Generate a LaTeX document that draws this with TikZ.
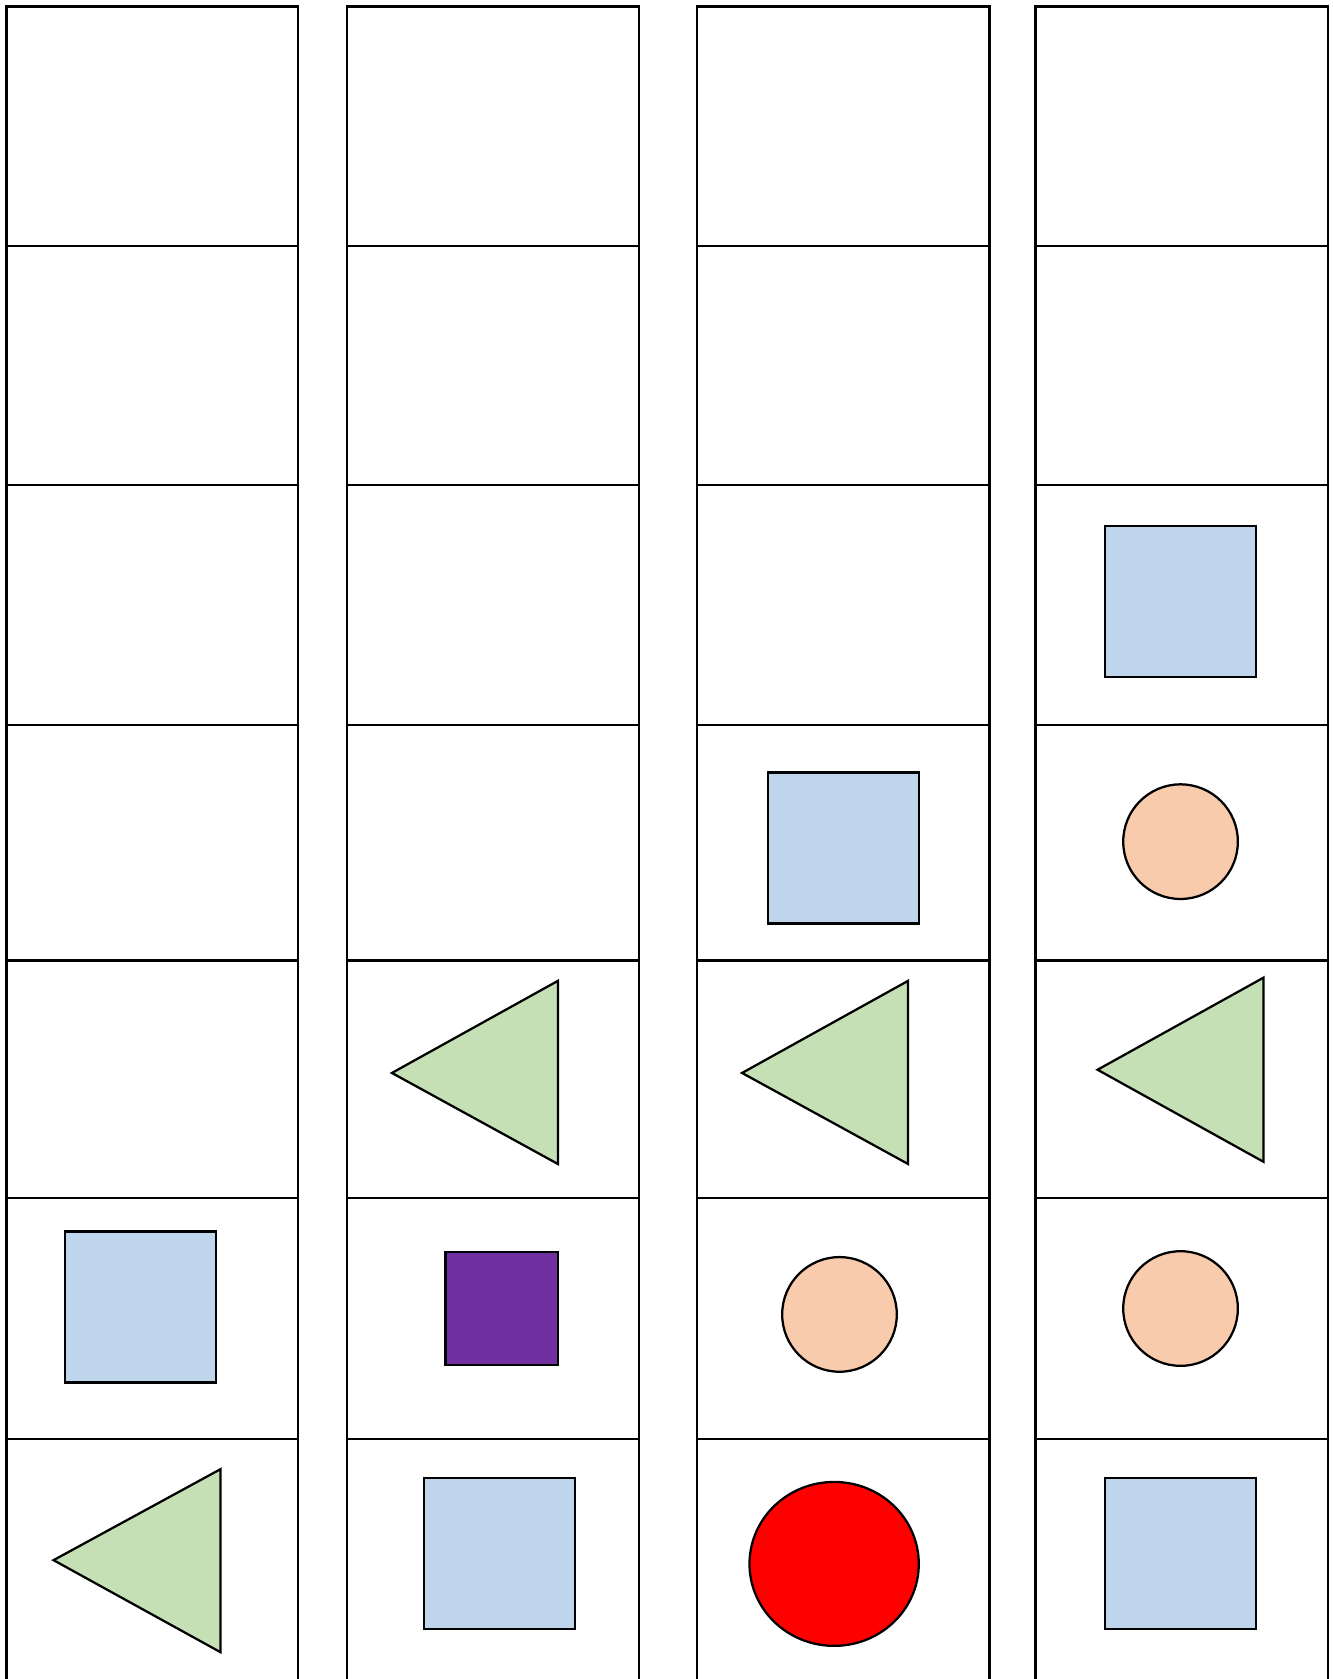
\documentclass[tikz,border=0pt]{standalone}
\usetikzlibrary{shapes.geometric}
\definecolor{cellblue}{HTML}{BED5EC}
\definecolor{cellgreen}{HTML}{C5E0B4}
\definecolor{cellpeach}{HTML}{F8CBAD}
\definecolor{cellpurple}{HTML}{7030A0}
\definecolor{cellred}{HTML}{FF0000}

\begin{document}
\begin{tikzpicture}[
    x=0.01cm, y=-0.01cm,
    grid/.style={line width=0.6pt, black},
    sqbox/.style={rectangle, draw, line width=0.6pt, fill=cellblue,
        minimum width=1.41cm, minimum height=1.41cm, inner sep=0pt},
    smallbox/.style={rectangle, draw, line width=0.6pt, fill=cellpurple,
        minimum width=1.05cm, minimum height=1.06cm, inner sep=0pt},
    dot/.style={circle, draw, line width=0.6pt, fill=cellpeach,
        minimum size=1.07cm, inner sep=0pt},
    bigdot/.style={ellipse, draw, line width=0.6pt, fill=cellred,
        minimum width=1.58cm, minimum height=1.53cm, inner sep=0pt},
    tri/.style={draw, line width=0.6pt, fill=cellgreen, line join=miter},
]
\useasboundingbox (0,0) rectangle (1244,1568);

% Column 1
\draw[grid] (6,1568) -- (6,6) -- (278,6) -- (278,1568)
    (6,230) -- (278,230) (6,453) -- (278,453) (6,677) -- (278,677)
    (6,897) -- (278,897) (6,1119) -- (278,1119) (6,1344) -- (278,1344);
\node[sqbox] (blueA) at (131.5,1220.5) {};
\draw[tri] (206,1372) -- (206,1543) -- (50,1457) -- cycle;

% Column 2
\draw[grid] (324,1568) -- (324,6) -- (597,6) -- (597,1568)
    (324,230) -- (597,230) (324,453) -- (597,453) (324,677) -- (597,677)
    (324,897) -- (597,897) (324,1119) -- (597,1119) (324,1344) -- (597,1344);
\draw[tri] (521,916) -- (521,1087) -- (366,1002) -- cycle;
\node[smallbox] (purpleB) at (468.5,1222) {};
\node[sqbox] (blueB) at (466.5,1451) {};

% Column 3
\draw[grid] (651,1568) -- (651,6) -- (924,6) -- (924,1568)
    (651,230) -- (924,230) (651,453) -- (924,453) (651,677) -- (924,677)
    (651,897) -- (924,897) (651,1119) -- (924,1119) (651,1344) -- (924,1344);
\node[sqbox] (blueC) at (787.5,792) {};
\draw[tri] (848,916) -- (848,1087) -- (693,1002) -- cycle;
\node[dot] (peachC) at (784,1227.5) {};
\node[bigdot] (redC) at (779,1460.5) {};

% Column 4
\draw[grid] (967,1568) -- (967,6) -- (1240,6) -- (1240,1568)
    (967,230) -- (1240,230) (967,453) -- (1240,453) (967,677) -- (1240,677)
    (967,897) -- (1240,897) (967,1119) -- (1240,1119) (967,1344) -- (1240,1344);
\node[sqbox] (blueD) at (1102.5,561.5) {};
\node[dot] (peachD) at (1102.5,786) {};
\draw[tri] (1180,913) -- (1180,1085) -- (1025,999) -- cycle;
\node[dot] (peachE) at (1102.5,1222) {};
\node[sqbox] (blueE) at (1102.5,1451) {};

\end{tikzpicture}
\end{document}
